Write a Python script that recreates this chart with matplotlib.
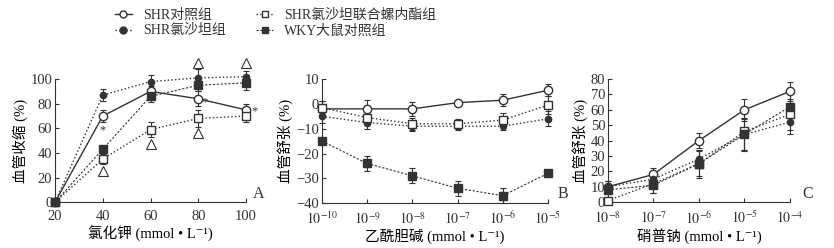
import numpy as np
import matplotlib.pyplot as plt
from matplotlib.lines import Line2D

plt.rcParams['font.family'] = ['Liberation Serif', 'Noto Sans CJK SC', 'DejaVu Serif']
plt.rcParams['mathtext.fontset'] = 'stix'
plt.rcParams['text.color'] = '#333333'
plt.rcParams['axes.edgecolor'] = '#333333'
plt.rcParams['xtick.color'] = '#333333'
plt.rcParams['ytick.color'] = '#333333'

# group names
groups = ['SHR对照组', 'SHR氯沙坦组', 'SHR氯沙坦联合螺内酯组', 'WKY大鼠对照组']

# panel A: KCl
kcl = [20, 40, 60, 80, 100]
a_ctrl = [0, 70, 90, 84, 75]
a_ctrl_err = [0, 5, 4, 6, 5]
a_los = [0, 87, 98, 101, 102]
a_los_err = [0, 5, 5, 7, 5]
a_spi = [0, 35, 59, 68, 70]
a_spi_err = [0, 4, 6, 7, 5]
a_wky = [0, 43, 86, 95, 97]
a_wky_err = [0, 3, 5, 5, 6]
tri_x = [40, 60, 80, 80, 100]
tri_y = [25, 47, 56, 113, 113]
star_x = [40, 82.5, 103.5]
star_y = [58, 81, 74]

# panel B: ACh
ach = [1e-10, 1e-9, 1e-8, 1e-7, 1e-6, 1e-5]
b_ctrl = [-2, -2, -2, 0.5, 1.5, 5.5]
b_ctrl_err = [3, 3.5, 2.8, 1, 2.5, 2.5]
b_los = [-5, -7.5, -9, -9, -9, -6]
b_los_err = [2.5, 2.5, 2, 1.5, 1.5, 3]
b_spi = [-1.5, -5.5, -8, -8, -6.5, -0.5]
b_spi_err = [2.5, 2.5, 2.5, 2, 3, 3.5]
b_wky = [-15, -24, -29, -34, -37, -28]
b_wky_err = [0.5, 3, 3, 3, 3, 1.5]

# panel C: SNP
snp = [1e-8, 1e-7, 1e-6, 1e-5, 1e-4]
c_ctrl = [10, 18, 40, 60, 72]
c_ctrl_err = [4, 4, 5, 7, 6]
c_los = [10, 15, 28, 44, 52]
c_los_err = [4, 5, 6, 10, 8]
c_spi = [1, 12, 25, 46, 57]
c_spi_err = [1, 6, 8, 12, 10]
c_wky = [8, 11, 25, 44, 62]
c_wky_err = [3, 5, 9, 11, 9]

col = '#333333'
styles = [
    dict(marker='o', ls='-', mfc='white', lw=1.0),
    dict(marker='o', ls=':', mfc=col, lw=1.0, ms=4.5),
    dict(marker='s', ls=':', mfc='white', lw=1.0),
    dict(marker='s', ls='--', mfc=col, lw=0.8, dashes=(2, 1.5)),
]


def draw(ax, x, series):
    for (y, e), st, name in zip(series, styles, groups):
        st = dict(st)
        ms = st.pop('ms', 6)
        ax.errorbar(x, y, yerr=e, color=col, mec=col, ms=ms, capsize=2,
                    elinewidth=0.8, capthick=0.8, label=name, clip_on=False,
                    zorder=3, **st)
    for s in ['top', 'right']:
        ax.spines[s].set_visible(False)
    ax.tick_params(direction='in', labelsize=10.5, length=3)
    ax.tick_params(axis='x', pad=5.5)
    ax.tick_params(axis='y', pad=2)


fig = plt.figure(figsize=(8.34, 2.48), dpi=100)
axA = fig.add_axes([0.066, 0.185, 0.229, 0.496])
axB = fig.add_axes([0.386, 0.181, 0.271, 0.5])
axC = fig.add_axes([0.729, 0.185, 0.218, 0.496])

draw(axA, kcl, [(a_ctrl, a_ctrl_err), (a_los, a_los_err),
                (a_spi, a_spi_err), (a_wky, a_wky_err)])
axA.plot(tri_x, tri_y, ls='none', marker='^', mfc='white', mec=col, ms=7,
         mew=0.8, clip_on=False)
for sx, sy in zip(star_x, star_y):
    axA.text(sx, sy, '*', ha='center', va='center', fontsize=9, color=col)
axA.set_xlim(20, 100)
axA.set_ylim(0, 100)
axA.set_xticks(kcl)
axA.set_yticks([0, 20, 40, 60, 80, 100])
axA.set_ylabel('血管收缩 (%)', fontsize=10.5, labelpad=2)
axA.set_xlabel('氯化钾 (mmol • L⁻¹)', fontsize=10.5, labelpad=2)

draw(axB, ach, [(b_ctrl, b_ctrl_err), (b_los, b_los_err),
                (b_spi, b_spi_err), (b_wky, b_wky_err)])
axB.set_xscale('log')
axB.set_xlim(1e-10, 1e-5)
axB.set_ylim(-40, 10)
axB.set_xticks(ach)
axB.set_xticklabels(['$10^{-%d}$' % k for k in [10, 9, 8, 7, 6, 5]], fontsize=10)
axB.minorticks_off()
axB.set_yticks([-40, -30, -20, -10, 0, 10])
axB.set_yticklabels(['\u221240', '\u221230', '\u221220', '\u221210', '0', '10'])
axB.set_ylabel('血管舒张 (%)', fontsize=10.5, labelpad=2)
axB.set_xlabel('乙酰胆碱 (mmol • L⁻¹)', fontsize=10.5, labelpad=1)

draw(axC, snp, [(c_ctrl, c_ctrl_err), (c_los, c_los_err),
                (c_spi, c_spi_err), (c_wky, c_wky_err)])
axC.set_xscale('log')
axC.set_xlim(1e-8, 1e-4)
axC.set_ylim(0, 80)
axC.set_xticks(snp)
axC.set_xticklabels(['$10^{-%d}$' % k for k in [8, 7, 6, 5, 4]], fontsize=10)
axC.minorticks_off()
axC.set_yticks(range(0, 81, 10))
axC.set_ylabel('血管舒张 (%)', fontsize=10.5, labelpad=2)
axC.set_xlabel('硝普钠 (mmol • L⁻¹)', fontsize=10.5, labelpad=1)

fig.text(0.303, 0.2, 'A', fontsize=11.5)
fig.text(0.669, 0.2, 'B', fontsize=11.5)
fig.text(0.962, 0.2, 'C', fontsize=11.5)

handles = []
for st in styles:
    st = dict(st)
    st.pop('ms', None)
    handles.append(Line2D([], [], color=col, mec=col, ms=5, **st))
fig.legend(handles=handles, labels=groups, ncol=2, loc='upper left',
           bbox_to_anchor=(0.128, 1.0), frameon=False, fontsize=10,
           handlelength=1.2, handletextpad=0.8, columnspacing=2.2,
           labelspacing=0.2, borderaxespad=0.2)

fig.savefig('out.png', dpi=100)
